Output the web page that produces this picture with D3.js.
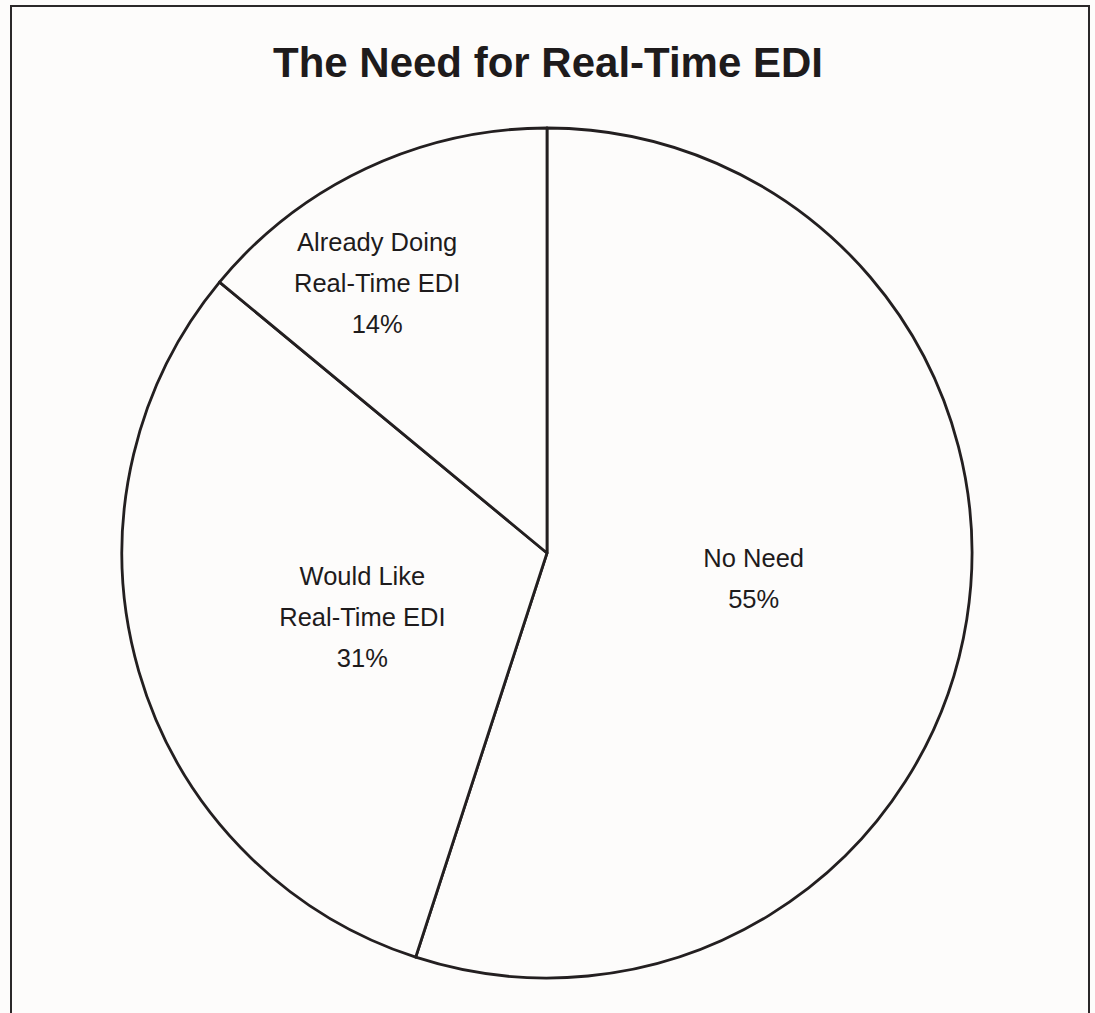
<!DOCTYPE html>
<html>
<head>
<meta charset="utf-8">
<script src="https://cdn.jsdelivr.net/npm/d3@7"></script>
<style>
  body { margin: 0; background: #fdfcfb; }
  svg { display: block; }
  text { font-family: "Liberation Sans", Arial, Helvetica, sans-serif; fill: #1e1b1c; }
</style>
</head>
<body>
<div id="chart"></div>
<script>
// chart data
var title = "The Need for Real-Time EDI";
var categories = ["No Need", "Would Like\nReal-Time EDI", "Already Doing\nReal-Time EDI"];
var shares = [55, 31, 14];

// label placement, as fraction of radius (kept apart from the data)
var labelRadius = [0.49, 0.46, 0.75];
var labelShift = [-2, -3, -7]; // degrees

var w = 1095, h = 1013;
var cx = 547, cy = 553, r = 425;

var svg = d3.select("#chart").append("svg")
    .attr("width", w)
    .attr("height", h);

// outer frame
svg.append("rect")
    .attr("x", 11).attr("y", 6)
    .attr("width", 1078).attr("height", 1020)
    .attr("fill", "#fdfcfb")
    .attr("stroke", "#2b2829")
    .attr("stroke-width", 2);

svg.append("text")
    .attr("x", 548)
    .attr("y", 77)
    .attr("text-anchor", "middle")
    .style("font-size", "42px")
    .style("font-weight", "bold")
    .text(title);

var pie = d3.pie().sort(null).value(function (d) { return d; });
var arcs = pie(shares);

var arc = d3.arc().innerRadius(0).outerRadius(r);

var g = svg.append("g")
    .attr("transform", "translate(" + cx + "," + cy + ")");

g.selectAll("path")
    .data(arcs)
    .enter()
    .append("path")
    .attr("d", arc)
    .attr("fill", "#fdfcfb")
    .attr("stroke", "#231f20")
    .attr("stroke-width", 2.8)
    .attr("stroke-linejoin", "round");

var lineH = 41;
var lab = g.selectAll("text.lab")
    .data(arcs)
    .enter()
    .append("text")
    .attr("class", "lab")
    .attr("text-anchor", "middle")
    .style("font-size", "25.5px")
    .attr("transform", function (d, i) {
        var a = (d.startAngle + d.endAngle) / 2 + labelShift[i] * Math.PI / 180;
        var rr = r * labelRadius[i];
        return "translate(" + (Math.sin(a) * rr) + "," + (-Math.cos(a) * rr) + ")";
    });

lab.each(function (d, i) {
    var lines = categories[i].split("\n");
    lines.push(shares[i] + "%");
    var t = d3.select(this);
    var y0 = -(lines.length - 1) * lineH / 2 + 9;
    lines.forEach(function (s, k) {
        t.append("tspan")
            .attr("x", 0)
            .attr("y", y0 + k * lineH)
            .text(s);
    });
});
</script>
</body>
</html>
